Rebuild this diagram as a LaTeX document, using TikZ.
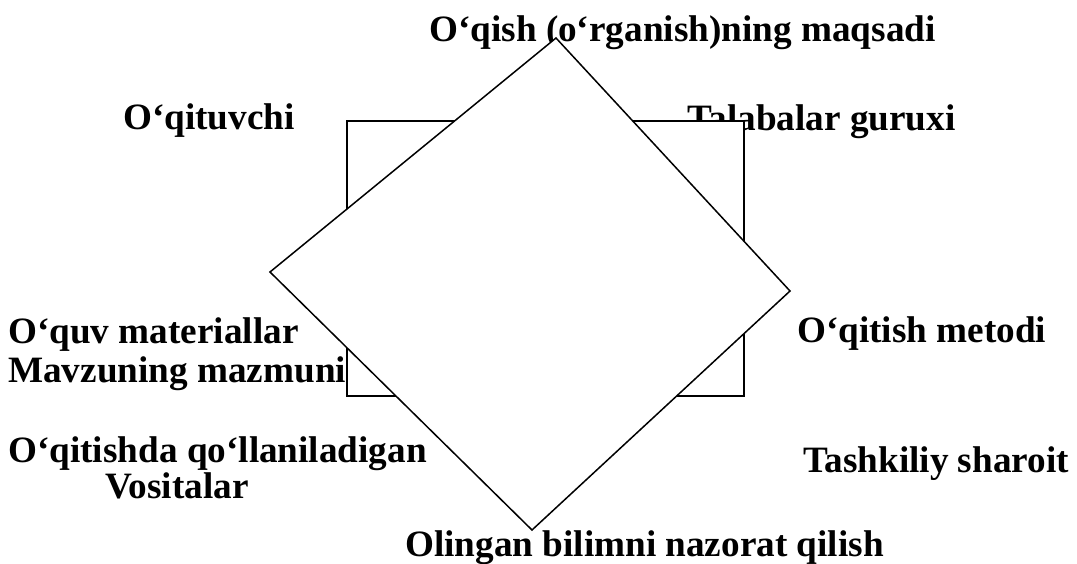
\documentclass[tikz,border=0pt]{standalone}
\usepackage{fontspec}
\setmainfont{Liberation Serif}
\tikzset{
  lbl/.style={anchor=base west, inner sep=0pt, font=\fontsize{37.2}{40}\selectfont\bfseries},
  shapeline/.style={draw=black, line width=1.5pt, fill=white, line join=miter}
}
\begin{document}
\begin{tikzpicture}[x=1pt,y=-1pt]
\useasboundingbox (0,0) rectangle (1077,563);
% labels
\node[lbl] (goal) at (429,41) {O‘qish (o‘rganish)ning maqsadi};
\node[lbl] (teacher) at (123,129) {O‘qituvchi};
\node[lbl] (group) at (687,130) {Talabalar guruxi};
\node[lbl] (mat) at (8,343) {O‘quv materiallar};
\node[lbl] (content) at (8,382) {Mavzuning mazmuni};
\node[lbl] (method) at (797,342) {O‘qitish metodi};
\node[lbl, align=left, font=\fontsize{37.2}{31}\selectfont\bfseries] (tools) at (8,498) {O‘qitishda qo‘llaniladigan\\\hspace*{97pt}Vositalar};
\node[lbl] (cond) at (803,472) {Tashkiliy sharoit};
\node[lbl] (control) at (405,556) {Olingan bilimni nazorat qilish};
% rectangle
\coordinate (r1) at (347,121);
\coordinate (r2) at (744,396);
\draw[shapeline] (r1) rectangle (r2);
% diamond
\coordinate (dt) at (556,38);
\coordinate (dr) at (790,291);
\coordinate (db) at (532,530);
\coordinate (dl) at (270,272);
\draw[shapeline] (dt) -- (dr) -- (db) -- (dl) -- cycle;
\end{tikzpicture}
\end{document}
